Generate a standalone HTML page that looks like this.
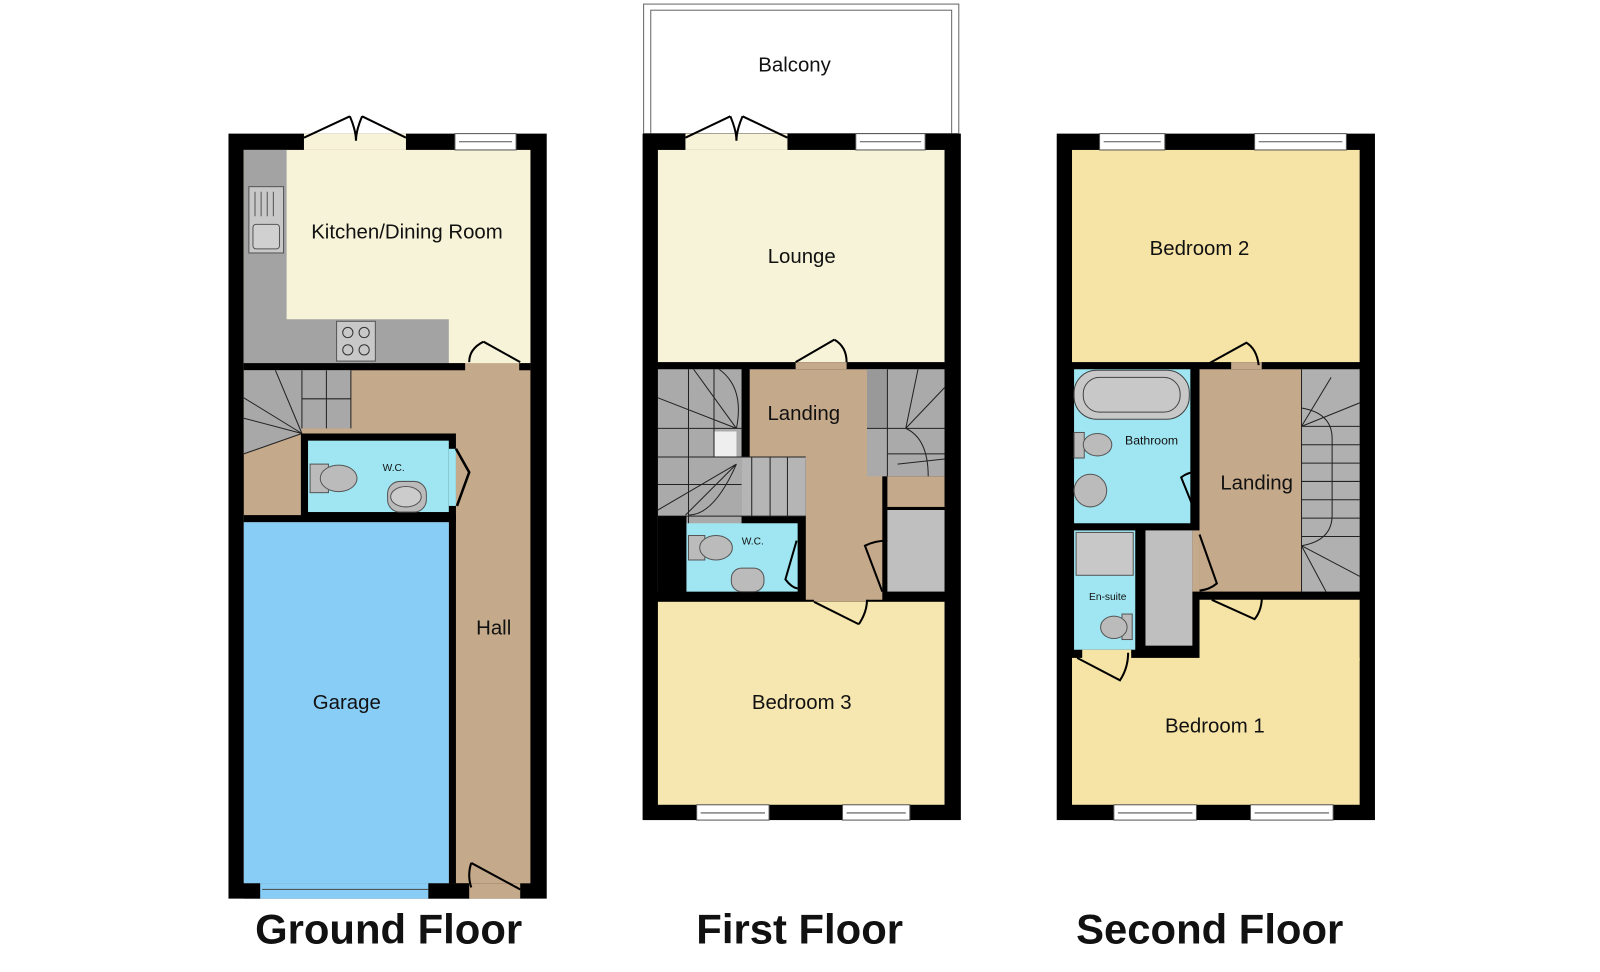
<!DOCTYPE html>
<html><head><meta charset="utf-8"><style>
html,body{margin:0;padding:0;background:#fff;width:1600px;height:972px;overflow:hidden}
svg{display:block}
text{font-family:"Liberation Sans",sans-serif;fill:#111}
</style></head><body>
<svg width="1600" height="972" viewBox="0 0 1600 972" xmlns="http://www.w3.org/2000/svg">
<g transform="scale(1.02)">
<!-- ============ GROUND FLOOR ============ -->
<rect x="224" y="131" width="312" height="750" fill="#000"/>
<rect x="239" y="147" width="281" height="719" fill="#c4a98a"/>
<!-- kitchen -->
<rect x="239" y="147" width="281" height="209" fill="#f7f3d8"/>
<rect x="239" y="147" width="42" height="209" fill="#a3a3a3"/>
<rect x="239" y="313" width="201" height="43" fill="#a3a3a3"/>
<rect x="244" y="183" width="34" height="65" fill="#c8c8c8" stroke="#555"/>
<rect x="248" y="220" width="26" height="24" rx="3" fill="#d0d0d0" stroke="#555"/>
<g stroke="#555"><line x1="250" y1="188" x2="250" y2="212"/><line x1="256" y1="188" x2="256" y2="212"/><line x1="262" y1="188" x2="262" y2="212"/><line x1="268" y1="188" x2="268" y2="212"/></g>
<rect x="330" y="315" width="38" height="39" fill="#c8c8c8" stroke="#555"/>
<g fill="none" stroke="#333"><circle cx="341" cy="326" r="5"/><circle cx="357" cy="326" r="5"/><circle cx="341" cy="343" r="5"/><circle cx="357" cy="343" r="5"/></g>
<!-- wall kitchen/hall -->
<rect x="239" y="356" width="217" height="7" fill="#000"/>
<rect x="509" y="356" width="11" height="7" fill="#000"/>
<!-- stairs -->
<rect x="239" y="363" width="105" height="57" fill="#a8a8a8"/>
<path d="M239 420 L296 420 L296 425 L239 445 Z" fill="#a8a8a8"/>
<g stroke="#222" fill="none"><line x1="296" y1="363" x2="296" y2="420"/><line x1="320" y1="363" x2="320" y2="420"/><line x1="296" y1="391" x2="344" y2="391"/><line x1="344" y1="363" x2="344" y2="420"/><path d="M270 363 L296 425 M239 390 L296 425 M239 410 L296 425 M239 445 L296 425"/></g>
<!-- WC -->
<rect x="295" y="425" width="152" height="82" fill="#000"/>
<rect x="302" y="432" width="138" height="70" fill="#a0e6f2"/>
<rect x="440" y="440" width="7" height="56" fill="#a0e6f2"/>
<rect x="304" y="455" width="18" height="28" fill="#bbb" stroke="#555"/>
<ellipse cx="332" cy="469" rx="18" ry="13" fill="#bbb" stroke="#555"/>
<rect x="380" y="472" width="38" height="30" rx="12" fill="#bbb" stroke="#555"/>
<ellipse cx="398" cy="487" rx="15" ry="10" fill="#ccc" stroke="#555"/>
<text x="386" y="462" font-size="10" text-anchor="middle">W.C.</text>
<path d="M447 440 L460 463 L448 496" fill="none" stroke="#000" stroke-width="2.5"/>
<!-- garage -->
<rect x="440" y="505" width="7" height="361" fill="#000"/>
<rect x="239" y="505" width="208" height="7" fill="#000"/>
<rect x="239" y="512" width="201" height="354" fill="#87cdf6"/>
<rect x="255" y="866" width="165" height="15" fill="#87cdf6"/>
<line x1="257" y1="872" x2="420" y2="872" stroke="#555"/>
<rect x="239" y="866" width="16" height="15" fill="#000"/>
<rect x="420" y="866" width="40" height="15" fill="#000"/>
<rect x="460" y="866" width="50" height="15" fill="#c4a98a"/>
<!-- doors -->
<path d="M462 846 L510 872 M462 846 Q458 858 462 870" fill="none" stroke="#000" stroke-width="2"/>
<path d="M474 335 L510 355 M474 335 Q460 342 460 355" fill="none" stroke="#000" stroke-width="2"/>
<!-- window + french doors -->
<rect x="446" y="131" width="60" height="16" fill="#fff" stroke="#555"/>
<line x1="450" y1="139" x2="502" y2="139" stroke="#555"/>
<rect x="298" y="131" width="100" height="16" fill="#f7f3d8"/>
<path d="M298 135 L343 114 M398 135 L355 114 M343 114 Q349 128 349 138 Q349 128 355 114" fill="none" stroke="#000" stroke-width="2"/>
<text x="399" y="234" font-size="20" text-anchor="middle">Kitchen/Dining Room</text>
<text x="340" y="695" font-size="20" text-anchor="middle">Garage</text>
<text x="484" y="622" font-size="20" text-anchor="middle">Hall</text>
<text x="381" y="925" font-size="41" font-weight="bold" text-anchor="middle">Ground Floor</text>

<!-- ============ FIRST FLOOR ============ -->
<rect x="631" y="4" width="309" height="127" fill="#fff" stroke="#666"/>
<rect x="638" y="10" width="295" height="121" fill="#fff" stroke="#666"/>
<text x="779" y="70" font-size="20" text-anchor="middle">Balcony</text>
<rect x="630" y="131" width="312" height="673" fill="#000"/>
<rect x="645" y="147" width="281" height="208" fill="#f7f3d8"/>
<rect x="672" y="131" width="100" height="16" fill="#f7f3d8"/>
<path d="M672 135 L716 114 M772 135 L728 114 M716 114 Q722 128 722 138 Q722 128 728 114" fill="none" stroke="#000" stroke-width="2"/>
<rect x="839" y="131" width="68" height="16" fill="#fff" stroke="#555"/>
<line x1="843" y1="139" x2="903" y2="139" stroke="#555"/>
<!-- landing -->
<rect x="735" y="362" width="115" height="88" fill="#c4a98a"/>
<rect x="790" y="450" width="75" height="138" fill="#c4a98a"/>
<rect x="780" y="355" width="50" height="7" fill="#c4a98a"/>
<path d="M780 355 L818 333 M818 333 Q830 340 830 355" fill="none" stroke="#000" stroke-width="2"/>
<!-- left stairs -->
<rect x="645" y="362" width="82" height="218" fill="#aaa"/>
<rect x="727" y="448" width="63" height="58" fill="#b5b5b5"/>
<rect x="700" y="423" width="22" height="25" fill="#eee"/>
<g stroke="#222" fill="none"><path d="M645 420 L727 420 M645 448 L790 448 M645 475 L727 475 M675 362 L675 580 M700 362 L700 448 M737 448 V506 M755 448 V506 M772 448 V506 M645 506 L790 506 M680 362 L722 420 M645 390 L722 420 M645 500 L722 455 M672 505 L722 455 M705 362 Q730 380 722 420 M722 455 Q700 505 675 505"/></g>
<rect x="645" y="506" width="28" height="82" fill="#000"/>
<!-- WC -->
<rect x="673" y="513" width="109" height="67" fill="#a0e6f2"/>
<rect x="675" y="525" width="16" height="24" fill="#bbb" stroke="#555"/>
<ellipse cx="702" cy="537" rx="16" ry="12" fill="#bbb" stroke="#555"/>
<rect x="717" y="557" width="32" height="23" rx="10" fill="#bbb" stroke="#555"/>
<text x="738" y="534" font-size="10" text-anchor="middle">W.C.</text>
<path d="M781 530 L770 568 Q776 576 782 577" fill="none" stroke="#000" stroke-width="2"/>
<!-- right stairs -->
<rect x="850" y="362" width="76" height="105" fill="#aaa"/>
<rect x="850" y="362" width="20" height="58" fill="#999"/>
<rect x="870" y="467" width="56" height="30" fill="#c4a98a"/>
<g stroke="#222" fill="none"><path d="M870 362 V467 M850 420 H926 M870 445 H926 M900 362 L888 420 M926 380 L888 420 M888 420 Q910 430 910 467 M880 455 L926 450"/></g>
<rect x="870" y="500" width="56" height="80" fill="#bfbfbf"/>
<path d="M865 580 L848 535 Q858 530 870 530" fill="none" stroke="#000" stroke-width="2"/>
<!-- bedroom3 -->
<rect x="645" y="590" width="281" height="199" fill="#f6e6b0"/>
<rect x="798" y="580" width="52" height="10" fill="#c4a98a"/>
<path d="M798 590 L842 612 M842 612 Q850 600 850 588" fill="none" stroke="#000" stroke-width="2"/>
<rect x="683" y="789" width="71" height="15" fill="#fff" stroke="#555"/>
<line x1="687" y1="797" x2="750" y2="797" stroke="#555"/>
<rect x="826" y="789" width="66" height="15" fill="#fff" stroke="#555"/>
<line x1="830" y1="797" x2="888" y2="797" stroke="#555"/>
<text x="786" y="258" font-size="20" text-anchor="middle">Lounge</text>
<text x="788" y="412" font-size="20" text-anchor="middle">Landing</text>
<text x="786" y="695" font-size="20" text-anchor="middle">Bedroom 3</text>
<text x="784" y="925" font-size="41" font-weight="bold" text-anchor="middle">First Floor</text>

<!-- ============ SECOND FLOOR ============ -->
<rect x="1036" y="131" width="312" height="673" fill="#000"/>
<rect x="1051" y="147" width="282" height="208" fill="#f6e3a6"/>
<rect x="1078" y="131" width="64" height="16" fill="#fff" stroke="#555"/>
<line x1="1082" y1="139" x2="1138" y2="139" stroke="#555"/>
<rect x="1230" y="131" width="90" height="16" fill="#fff" stroke="#555"/>
<line x1="1234" y1="139" x2="1316" y2="139" stroke="#555"/>
<!-- bathroom -->
<rect x="1053" y="362" width="114" height="151" fill="#a0e6f2"/>
<rect x="1053" y="363" width="113" height="48" rx="22" fill="#c8c8c8" stroke="#444"/>
<rect x="1062" y="370" width="95" height="34" rx="16" fill="#c8c8c8" stroke="#444"/>
<rect x="1053" y="424" width="10" height="25" fill="#bbb" stroke="#555"/>
<ellipse cx="1076" cy="436" rx="14" ry="11" fill="#bbb" stroke="#555"/>
<ellipse cx="1069" cy="481" rx="16" ry="16" fill="#bbb" stroke="#555"/>
<text x="1129" y="436" font-size="12" text-anchor="middle">Bathroom</text>
<path d="M1175 510 L1158 468 Q1164 463 1175 462" fill="none" stroke="#000" stroke-width="2"/>
<!-- landing -->
<rect x="1176" y="362" width="100" height="218" fill="#c4a98a"/>
<rect x="1207" y="355" width="30" height="7" fill="#c4a98a"/>
<path d="M1184 357 L1222 336 Q1232 342 1234 358" fill="none" stroke="#000" stroke-width="2"/>
<rect x="1276" y="362" width="57" height="218" fill="#b0b0b0"/>
<g stroke="#222" fill="none"><path d="M1276 362 V580 M1276 418 H1333 M1276 436 H1333 M1276 454 H1333 M1276 472 H1333 M1276 490 H1333 M1276 508 H1333 M1276 526 H1333 M1276 418 L1305 370 M1276 418 L1333 395 M1276 535 L1333 565 M1276 535 L1300 580 M1276 400 Q1306 405 1306 430 V505 Q1306 530 1276 535"/></g>
<text x="1232" y="480" font-size="20" text-anchor="middle">Landing</text>
<!-- en-suite & cupboard -->
<rect x="1053" y="520" width="60" height="117" fill="#a0e6f2"/>
<rect x="1055" y="522" width="56" height="42" fill="#c8c8c8" stroke="#555"/>
<rect x="1100" y="602" width="10" height="25" fill="#bbb" stroke="#555"/>
<ellipse cx="1092" cy="615" rx="13" ry="11" fill="#bbb" stroke="#555"/>
<text x="1086" y="588" font-size="10" text-anchor="middle">En-suite</text>
<rect x="1123" y="520" width="46" height="113" fill="#bfbfbf"/>
<rect x="1169" y="520" width="7" height="60" fill="#c4a98a"/>
<path d="M1176 524 L1193 572 Q1186 578 1176 579" fill="none" stroke="#000" stroke-width="2"/>
<!-- bedroom1 -->
<rect x="1051" y="645" width="282" height="144" fill="#f6e3a6"/>
<rect x="1176" y="588" width="157" height="60" fill="#f6e3a6"/>
<rect x="1061" y="637" width="48" height="10" fill="#f6e3a6"/>
<path d="M1056 645 L1098 667 Q1106 655 1106 640" fill="none" stroke="#000" stroke-width="2"/>
<path d="M1188 588 L1230 607 Q1238 597 1237 582" fill="none" stroke="#000" stroke-width="2"/>
<rect x="1092" y="789" width="81" height="15" fill="#fff" stroke="#555"/>
<line x1="1096" y1="797" x2="1169" y2="797" stroke="#555"/>
<rect x="1226" y="789" width="81" height="15" fill="#fff" stroke="#555"/>
<line x1="1230" y1="797" x2="1303" y2="797" stroke="#555"/>
<text x="1176" y="250" font-size="20" text-anchor="middle">Bedroom 2</text>
<text x="1191" y="718" font-size="20" text-anchor="middle">Bedroom 1</text>
<text x="1186" y="925" font-size="41" font-weight="bold" text-anchor="middle">Second Floor</text>
</g>
</svg>
</body></html>
